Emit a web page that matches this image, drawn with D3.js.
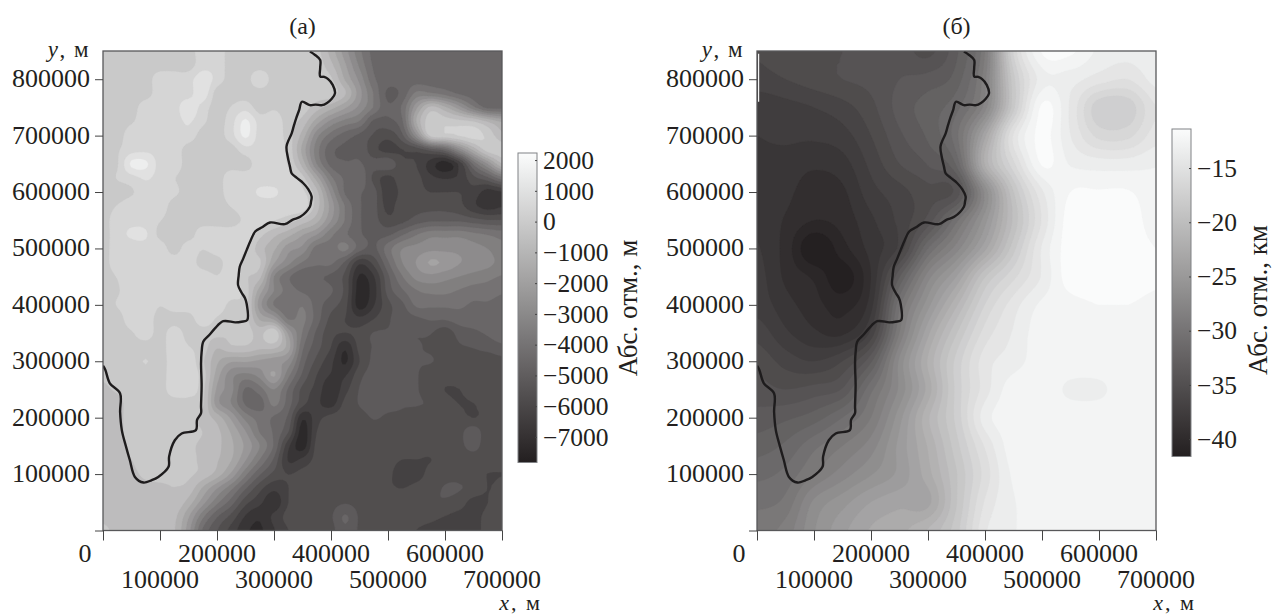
<!DOCTYPE html>
<html><head><meta charset="utf-8">
<script src="https://cdn.jsdelivr.net/npm/d3@7"></script>
<style>
html,body{margin:0;padding:0;background:#fff}
svg{display:block}
text{font-family:"Liberation Serif",serif;fill:#231f20}
</style></head><body>
<svg id="c" width="1273" height="615"></svg>
<script>
// (a) relief, hundreds of metres. Nodes every 25 km; rows y=850 km..0, columns x=0..700 km
const relief = [
[-1,-1,-1,-1,-1,-1,-1,5,5,-1,-1,-1,-1,-1,-1,-2,-12,-24,-36,-45,-46,-46,-46,-46,-46,-46,-46,-46,-46],
[-1,-1,-1,-1,-1,-1,-1,5,5,-1,-1,-1,-1,-1,-1,-1,-8,-20,-33,-44,-46,-46,-46,-46,-46,-46,-46,-46,-46],
[-1,-1,-1,-1,5,5,5,11,5,-1,-1,6,-1,-1,-1,-1,-3,-16,-28,-42,-46,-46,-46,-46,-46,-46,-46,-46,-46],
[-1,-1,-1,-1,5,5,5,11,-1,-1,-1,-1,-1,-1,-1,-1,-1,-9,-24,-38,-50,-47,-36,-37,-40,-44,-46,-47,-45],
[-1,-1,-1,5,5,5,11,5,-1,2,5,-1,1,-1,-1,-7,-13,-20,-28,-38,-48,-42,-22,-8,-14,-24,-36,-45,-45],
[-1,-1,1,5,6,5,8,3,-1,5,14,5,5,-1,-6,-18,-28,-34,-38,-50,-50,-44,-15,0,-1,-2,-4,-10,-16],
[-1,-1,5,5,6,5,5,-1,-1,5,14,5,5,-1,-12,-30,-40,-46,-50,-55,-58,-50,-28,-2,0,2,4,0,-8],
[-1,1,5,6,5,5,-1,-1,-1,-1,5,5,5,0,-17,-35,-47,-50,-50,-58,-62,-60,-58,-52,-46,-30,-14,-1,-1],
[-1,1,14,14,5,5,-1,-1,-1,-1,-1,5,5,1,-12,-32,-45,-48,-48,-52,-50,-58,-60,-68,-74,-64,-42,-26,-10],
[-1,2,5,8,5,2,-1,-1,-1,5,5,5,5,5,-2,-18,-36,-44,-44,-56,-62,-56,-58,-64,-66,-64,-56,-50,-40],
[-1,-1,1,5,5,3,-1,-1,-1,5,5,8,8,5,3,-8,-28,-44,-48,-52,-64,-58,-58,-60,-60,-60,-62,-68,-66],
[-1,2,5,5,5,-1,-1,-1,-1,2,5,5,5,5,5,-7,-23,-38,-48,-52,-62,-56,-56,-56,-56,-58,-64,-68,-66],
[-1,5,6,5,2,-1,-1,-1,-1,-1,3,5,2,-1,-6,-13,-26,-38,-48,-52,-58,-56,-52,-50,-50,-50,-52,-54,-54],
[-1,5,8,8,0,-1,-1,5,5,5,5,-2,-8,-13,-20,-26,-36,-42,-48,-50,-50,-44,-38,-34,-34,-34,-36,-38,-40],
[-1,5,5,5,5,-1,5,2,5,5,2,-7,-14,-24,-28,-40,-40,-36,-46,-50,-40,-32,-30,-28,-28,-28,-30,-32,-36],
[-1,5,5,5,5,5,5,-1,-1,5,-1,-3,-20,-30,-38,-42,-42,-50,-64,-58,-44,-32,-26,-20,-22,-26,-28,-30,-34],
[-1,2,6,7,5,6,5,5,2,5,-3,-8,-32,-42,-48,-48,-50,-56,-72,-66,-50,-38,-30,-28,-30,-32,-34,-36,-38],
[-1,1,5,5,5,5,5,5,5,5,-1,-18,-32,-40,-44,-46,-48,-56,-74,-68,-52,-44,-38,-36,-36,-38,-40,-40,-42],
[-1,2,5,6,2,5,5,5,5,0,-1,-24,-38,-42,-38,-46,-52,-58,-74,-66,-56,-50,-42,-42,-42,-42,-44,-44,-46],
[-1,-1,5,5,-1,-1,-1,5,1,-1,-2,-16,-22,-38,-36,-46,-56,-60,-64,-60,-55,-52,-50,-48,-48,-46,-46,-46,-46],
[-1,-1,1,5,-1,5,-1,-1,-2,-3,-1,-6,1,-22,-38,-50,-58,-60,-58,-54,-54,-54,-54,-54,-58,-52,-50,-48,-46],
[-1,-1,-1,-1,-1,5,2,-1,-9,-5,-5,-8,-8,-18,-42,-52,-60,-70,-58,-54,-54,-54,-54,-55,-57,-55,-54,-52,-50],
[-1,-1,-1,2,-1,5,5,-3,-14,-20,-20,-22,-24,-28,-46,-56,-64,-72,-60,-53,-53,-53,-54,-54,-56,-56,-57,-58,-56],
[-3,-1,-1,-1,-1,5,5,-1,-18,-30,-34,-30,-20,-36,-50,-60,-66,-66,-56,-52,-52,-54,-54,-57,-58,-57,-56,-55,-55],
[-5,-3,-1,-1,-1,5,5,-2,-22,-30,-44,-40,-32,-44,-56,-62,-70,-62,-54,-52,-53,-54,-54,-57,-60,-60,-57,-55,-55],
[-6,-6,-1,-1,-1,-1,-1,-3,-24,-32,-44,-46,-36,-46,-58,-64,-68,-58,-54,-52,-53,-54,-54,-55,-58,-60,-60,-57,-56],
[-6,-6,-1,-1,-1,-1,-1,-6,-12,-22,-34,-40,-44,-50,-70,-62,-58,-56,-56,-54,-55,-55,-56,-56,-56,-58,-60,-58,-55],
[-6,-6,-1,-1,-1,-1,-2,-4,-8,-16,-26,-38,-44,-54,-74,-60,-56,-56,-56,-56,-56,-56,-56,-56,-56,-56,-51,-58,-56],
[-6,-6,-2,-1,-1,-2,-3,-5,-8,-14,-22,-32,-44,-64,-74,-58,-56,-56,-56,-56,-56,-56,-58,-58,-56,-56,-52,-58,-56],
[-6,-6,-4,-1,-1,-3,-3,-5,-9,-15,-26,-38,-50,-66,-64,-58,-57,-57,-57,-57,-58,-60,-60,-60,-58,-58,-58,-58,-58],
[-7,-6,-5,-3,-2,-3,-3,-6,-12,-22,-36,-48,-56,-60,-58,-57,-57,-58,-58,-58,-59,-62,-62,-58,-56,-56,-58,-60,-60],
[-5,-5,-5,-5,-5,-4,-6,-16,-26,-36,-48,-58,-64,-60,-58,-57,-57,-58,-58,-59,-59,-60,-58,-56,-54,-54,-56,-60,-58],
[-5,-5,-5,-5,-5,-5,-12,-24,-36,-46,-58,-64,-70,-60,-58,-56,-56,-55,-56,-55,-55,-55,-55,-55,-55,-57,-62,-60,-55],
[-5,-5,-5,-5,-6,-8,-20,-36,-48,-56,-66,-70,-64,-58,-57,-56,-55,-48,-55,-55,-55,-55,-57,-58,-60,-62,-62,-58,-55],
[-3,-5,-5,-5,-6,-9,-24,-44,-54,-62,-70,-72,-66,-60,-58,-56,-56,-50,-55,-55,-55,-57,-60,-62,-64,-64,-62,-58,-56]
];
// (б) surface depth, km. Nodes every 50 km; rows y=850 km..0, columns x=0..700 km
const depth = [
[-35.9,-35.5,-35.3,-35,-34.7,-34.5,-35.3,-33.2,-29,-16.9,-11.9,-11.8,-13.2,-13.6,-13.2],
[-36.4,-36,-35.5,-35,-34.7,-34,-33.6,-32.5,-28.3,-18.4,-13.5,-13.6,-14.5,-15,-13.6],
[-37.8,-37.4,-37,-36.4,-35.3,-33.6,-32.5,-31.3,-27.5,-18.4,-11.8,-14.2,-17.7,-17.7,-15],
[-38,-37.8,-37.8,-37.4,-36,-34.2,-32.8,-30.3,-23.3,-14.9,-11.7,-14,-16.3,-16.3,-14.5],
[-38.2,-38.4,-38.8,-38.4,-36.7,-35,-33.9,-31.8,-21.9,-16.3,-11.9,-13.1,-13.5,-13.5,-13.1],
[-38.2,-38.7,-39.6,-39.2,-37.4,-36.4,-35.3,-34.6,-26.8,-19.1,-14.2,-12,-11.9,-11.9,-12.8],
[-38.2,-39.1,-40,-39.6,-38.2,-36.7,-34.6,-30.3,-25.4,-19.8,-14.9,-11.4,-11.1,-11.1,-12.8],
[-37.9,-39.4,-42,-40.4,-38.6,-36.7,-31,-27.5,-23.3,-18.4,-13.9,-11.4,-11.1,-11.1,-12],
[-37.6,-39.2,-40.2,-41.6,-39,-33.1,-27.5,-24,-19.1,-16.3,-13.9,-11.4,-11.1,-11.1,-11.7],
[-37.4,-38.6,-39.6,-40.4,-38.4,-30.3,-25.4,-21.2,-17,-14.5,-12.8,-12.4,-12,-12,-12.4],
[-36.4,-37.8,-38.8,-39.2,-36.7,-29,-23.3,-19.1,-15.6,-13.9,-12.4,-12.4,-12.4,-12.4,-12.4],
[-35.3,-36.4,-37,-36,-33.2,-26.8,-21.9,-17.7,-14.5,-13.5,-12.4,-12.4,-12.4,-12.4,-12.4],
[-34.6,-35,-34.6,-33.9,-30.3,-26.8,-22.6,-17.7,-14.5,-12.4,-12.4,-13.2,-13.2,-12.4,-12.4],
[-33.6,-33.2,-32.5,-31,-29,-25.4,-21.2,-17.7,-13.5,-12.4,-12.4,-12.4,-12.4,-12.4,-12.4],
[-32.5,-31.8,-30.3,-29,-27.5,-24.7,-21.9,-18.4,-14.9,-12.4,-12.4,-12.4,-12.4,-12.4,-12.4],
[-31.3,-30.7,-29,-27.5,-26.1,-24.7,-22.4,-19.1,-15.6,-12.8,-12.4,-12.4,-12.4,-12.4,-12.4],
[-30.3,-29.7,-26.8,-25.4,-24,-23.3,-23.3,-19.1,-14.9,-13.1,-12.4,-12.4,-12.4,-12.4,-12.4],
[-29.4,-28.6,-26.1,-24.3,-22.9,-22.3,-20.9,-18.4,-14.2,-13.1,-12.4,-12.4,-12.4,-12.4,-12.4]
];
// coastline, km
const coastX = [363,372,381,381,381,388,395,403,407,401,393,384,373,363,349,344,339,335,331,322,324,328,331,340,351,360,366,365,363,346,333,319,293,280,267,259,252,246,240,238,237,243,249,252,253,243,232,211,196,186,176,173,172,173,172,172,165,163,138,126,116,115,97,85,71,56,47,40,33,30,30,12,4,0];
const coastY = [849,843,834,820,805,804,800,790,775,765,758,754,755,754,760,745,731,718,704,681,663,645,633,625,616,605,592,583,574,556,551,543,546,538,530,514,497,482,468,452,435,422,412,402,373,370,369,371,358,346,335,316,296,258,220,208,196,178,172,160,131,113,95,89,85,95,125,150,178,210,243,261,285,292];

const xTicks = [0,100000,200000,300000,400000,500000,600000,700000];
const yTicks = [100000,200000,300000,400000,500000,600000,700000,800000];
const cbarTicksA = [2000,1000,0,-1000,-2000,-3000,-4000,-5000,-6000,-7000];
const cbarTicksB = [-15,-20,-25,-30,-35,-40];
const titles = ["(а)","(б)"];
const cbarLabels = ["Абс. отм., м","Абс. отм., км"];

const FS = 26;
const svg = d3.select("#c");
const defs = svg.append("defs");
const grayOf = d3.scaleLinear().domain([0,1]).range(["#231f20","#fbfcfc"]);

// smooth (Catmull-Rom) resampling of the read grid, for rendering only; clamped to its cell to avoid overshoot
function resample(g, k, unit){
  const R=g.length,C=g[0].length,W=(C-1)*k+1,H=(R-1)*k+1,out=new Float64Array(W*H);
  const cr=(a,b,c,d,t)=>0.5*(2*b+(c-a)*t+(2*a-5*b+4*c-d)*t*t+(3*b-a-3*c+d)*t*t*t);
  const at=(r,c)=>g[Math.max(0,Math.min(R-1,r))][Math.max(0,Math.min(C-1,c))];
  for(let y=0;y<H;y++){const ry=y/k,r0=Math.floor(ry),ty=ry-r0;
    for(let x=0;x<W;x++){const rx=x/k,c0=Math.floor(rx),tx=rx-c0;
      const col=[-1,0,1,2].map(d=>cr(at(r0+d,c0-1),at(r0+d,c0),at(r0+d,c0+1),at(r0+d,c0+2),tx));
      const corners=[at(r0,c0),at(r0,c0+1),at(r0+1,c0),at(r0+1,c0+1)];
      const v=cr(col[0],col[1],col[2],col[3],ty);
      out[y*W+x]=Math.max(d3.min(corners),Math.min(d3.max(corners),v))*unit;}}
  return {values:out,W,H,k};
}

function panel(o){
  const x=d3.scaleLinear().domain([0,700000]).range([o.x0,o.x0+399]);
  const y=d3.scaleLinear().domain([0,850000]).range([530.5,51]);
  const c=d3.scaleLinear().domain(o.cDomain).range([0,1]);
  const color=v=>grayOf(Math.max(0,Math.min(1,c(v))));
  const id="clip"+o.i;
  defs.append("clipPath").attr("id",id).append("rect")
    .attr("x",x(0)).attr("y",y(850000)).attr("width",x(700000)-x(0)).attr("height",y(0)-y(850000));

  const r=resample(o.grid,o.k,o.unit);
  const levels=d3.range(o.levelStart,o.cDomain[1],o.levelStep);
  const contours=d3.contours().size([r.W,r.H]).smooth(true).thresholds(levels)(r.values);
  const toX=g=>x((g-0.5)/r.k*o.gridStep);
  const toY=g=>y(850000-(g-0.5)/r.k*o.gridStep);
  const path=d3.geoPath(d3.geoTransform({point(a,b){this.stream.point(toX(a),toY(b));}}));
  const g=svg.append("g").attr("clip-path",`url(#${id})`);
  g.append("rect").attr("x",x(0)).attr("y",y(850000)).attr("width",x(700000)-x(0)).attr("height",y(0)-y(850000)).attr("fill",color(o.levelStart));
  g.selectAll("path").data(contours).join("path").attr("d",path).attr("fill",d=>color(d.value+o.levelStep/2)).attr("stroke",d=>color(d.value+o.levelStep/2)).attr("stroke-width",0.3);
  // coast
  const line=d3.line().curve(d3.curveCatmullRom).x(i=>x(coastX[i]*1000)).y(i=>y(coastY[i]*1000));
  g.append("path").attr("d",line(d3.range(coastX.length))).attr("fill","none").attr("stroke","#1e1c1d").attr("stroke-width",2.4).attr("stroke-linejoin","round");

  // frame
  svg.append("rect").attr("x",x(0)).attr("y",y(850000)).attr("width",x(700000)-x(0)).attr("height",y(0)-y(850000)).attr("fill","none").attr("stroke","#58585a").attr("stroke-width",1.3);
  if(o.strip) svg.append("line").attr("x1",x(0)+1.6).attr("x2",x(0)+1.6).attr("y1",y(o.strip[0])).attr("y2",y(o.strip[1])).attr("stroke","#f4f4f4").attr("stroke-width",1.2);

  // axes
  const ax=svg.append("g").attr("transform",`translate(0,${y(0)})`)
    .call(d3.axisBottom(x).tickValues(xTicks).tickSize(10).tickFormat(""));
  ax.select(".domain").remove();
  ax.selectAll("line").attr("stroke","#444");
  const ay=svg.append("g").attr("transform",`translate(${x(0)},0)`)
    .call(d3.axisLeft(y).tickValues([0,...yTicks]).tickSize(8).tickFormat(""));
  ay.select(".domain").remove();
  ay.selectAll("line").attr("stroke","#444");
  svg.selectAll(null).data(xTicks).join("text")
    .attr("x",d=>x(d)+(d===0?-18:0)).attr("y",(d,i)=>i%2===0?562:588)
    .attr("text-anchor","middle").attr("font-size",FS).text(d=>d);
  svg.selectAll(null).data(yTicks).join("text")
    .attr("x",x(0)-13).attr("y",d=>y(d)+8).attr("text-anchor","end").attr("font-size",FS).text(d=>d);
  // axis names
  const yn=svg.append("text").attr("x",x(0)-13).attr("y",57).attr("text-anchor","end").attr("font-size",23).attr("letter-spacing",1.5);
  yn.append("tspan").attr("font-style","italic").text("y");
  yn.append("tspan").text(", м");
  const xn=svg.append("text").attr("x",x(700000)+40).attr("y",610).attr("text-anchor","end").attr("font-size",22).attr("letter-spacing",2);
  xn.append("tspan").attr("font-style","italic").text("x");
  xn.append("tspan").text(", м");
  svg.append("text").attr("x",(x(0)+x(700000))/2).attr("y",34).attr("text-anchor","middle").attr("font-size",24).text(o.title);

  // colorbar
  const cb=d3.scaleLinear().domain(o.cDomain).range(o.cPx);
  const gid="grad"+o.i;
  const lg=defs.append("linearGradient").attr("id",gid).attr("x1",0).attr("x2",0).attr("y1",1).attr("y2",0);
  d3.range(0,1.001,0.1).forEach(t=>lg.append("stop").attr("offset",t).attr("stop-color",grayOf(t)));
  svg.append("rect").attr("x",o.cx).attr("y",o.cPx[1]).attr("width",19).attr("height",o.cPx[0]-o.cPx[1])
    .attr("fill",`url(#${gid})`).attr("stroke","#808285").attr("stroke-width",1);
  const cax=svg.append("g").attr("transform",`translate(${o.cx+19},0)`)
    .call(d3.axisRight(cb).tickValues(o.cTicks).tickSize(-2).tickPadding(6).tickFormat(d=>String(d).replace("-","\u2212")));
  cax.select(".domain").remove();
  cax.selectAll("line").attr("stroke","#444");
  cax.selectAll("text").attr("font-size",25.5).attr("font-family","Liberation Serif").attr("fill","#231f20");
  svg.append("text").attr("transform",`translate(${o.lx},${o.ly}) rotate(-90)`).attr("text-anchor","middle").attr("font-size",27).text(o.cLabel);
}

panel({i:0,x0:103,grid:relief,gridStep:25000,k:5,unit:100,cDomain:[-7830,2230],levelStart:-8230,levelStep:560,title:titles[0],
  cx:518,cPx:[462.5,153],cTicks:cbarTicksA,cLabel:cbarLabels[0],lx:637,ly:308});
panel({i:1,x0:757,grid:depth,gridStep:50000,k:10,unit:1,cDomain:[-41.6,-11.4],levelStart:-43,levelStep:1,title:titles[1],strip:[845000,760000],
  cx:1172,cPx:[456.5,129],cTicks:cbarTicksB,cLabel:cbarLabels[1],lx:1267,ly:300});
</script></body></html>
